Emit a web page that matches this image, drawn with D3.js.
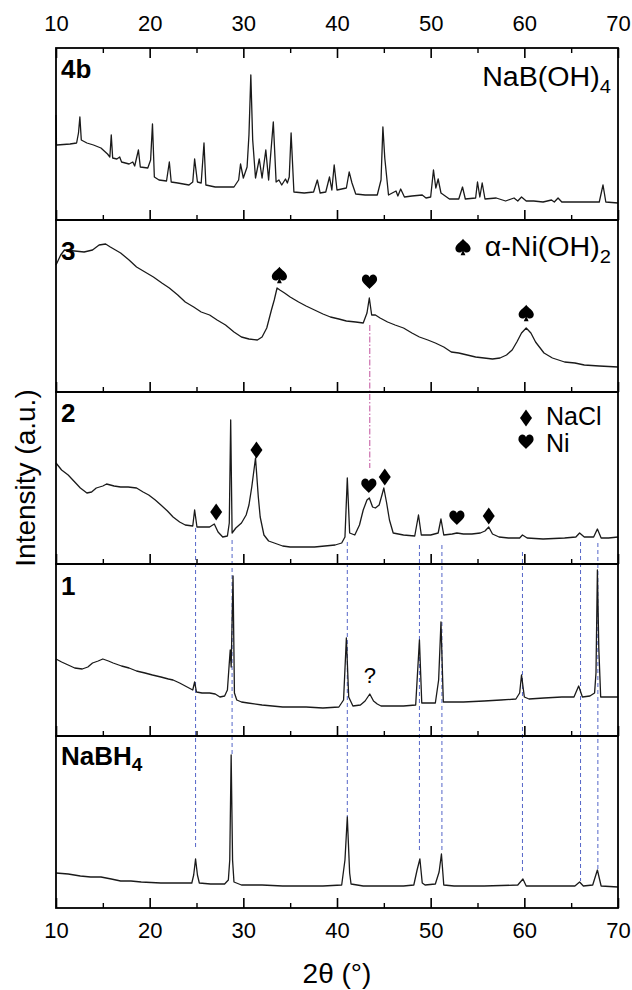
<!DOCTYPE html>
<html><head><meta charset="utf-8">
<script src="https://cdn.jsdelivr.net/npm/d3@7"></script>
<style>
body{margin:0;background:#fff}
svg{display:block}
text{font-family:"Liberation Sans",Arial,Helvetica,sans-serif;fill:#000}
</style>
</head><body>
<svg id="chart" width="632" height="990"></svg>
<script>
// ---------- data ----------
const xDomain = [10, 70];
const xMajorTicks = [10, 20, 30, 40, 50, 60, 70];
const xMinorTicks = [15, 25, 35, 45, 55, 65];
const panelLabels = [["4b", ""], ["3", ""], ["2", ""], ["1", ""], ["NaBH", "4"]];

// intensity (a.u.) vs 2theta
const pattern4b = [[10,105],[10.05,75],[10.1,75],[11.5,76],[12.2,77],[12.4,87],[12.55,103],[12.7,80],[13.3,77],[14,75],[14.8,72],[15.5,66],[15.75,63],[15.9,85],[16.05,62],[16.5,61],[16.8,63],[17,58],[17.8,56],[18.2,58],[18.4,54],[18.8,70],[19,53],[19.8,52],[20.1,60],[20.3,96],[20.5,43],[21,40],[21.8,39],[22.1,58],[22.3,38],[23,37],[24.2,35],[24.6,38],[24.8,61],[25.1,38],[25.5,37],[25.8,77],[26,35],[27,33],[28,33],[29,33],[29.5,40],[29.7,56],[30,42],[30.4,53],[30.6,85],[30.8,145],[31,80],[31.3,42],[31.7,61],[32,42],[32.4,70],[32.7,40],[33.2,98],[33.5,38],[33.8,40],[34.1,35],[34.5,41],[34.7,37],[34.9,43],[35.1,87],[35.4,28],[36.5,27],[37.5,28],[37.9,40],[38.2,27],[38.8,28],[39.2,43],[39.45,30],[39.7,55],[40,30],[41,32],[41.3,48],[41.6,37],[42,26],[43,25],[44.3,25],[44.7,40],[44.9,93],[45.1,62],[45.5,25],[46.3,29],[46.5,24],[46.8,31],[47.2,23],[48,24],[49.1,25],[49.5,22],[50,23],[50.3,50],[50.55,32],[50.8,41],[51.1,27],[52,21],[53,21],[53.4,33],[53.7,21],[54.8,22],[55,38],[55.25,23],[55.5,37],[55.8,21],[57,22],[58,19],[58.9,22],[59.3,19],[59.7,23],[60.2,19],[61,19],[62,18],[62.9,20],[63.2,18],[63.6,22],[64,18],[66,18],[68,18],[68.4,35],[68.7,18],[70,17]];

const pattern3 = [[10,127],[10.5,137],[10.9,142],[12,141],[13,140],[13.9,142],[14.6,147],[15.3,148],[15.8,145],[16.9,139],[17.8,132],[18.6,125],[19.5,120],[20.4,115],[21.3,109],[22.1,104],[23,97],[23.8,90],[24.7,85],[25.5,80],[26.4,77],[27.2,72],[28.1,67],[29,60],[29.8,55],[30.6,53],[31.5,52],[32,55],[32.5,64],[33,82],[33.3,92],[33.6,104],[33.9,102],[34.4,99],[35,95],[35.9,90],[36.7,86],[37.6,82],[38.5,78],[39.3,75],[40.2,73],[41,71],[42,70],[42.8,69],[43.2,79],[43.45,94],[43.7,77],[44.1,77],[44.6,74],[45.4,70],[46.2,67],[47.1,64],[48,59],[48.8,55],[49.7,52],[50.5,49],[51.4,45],[52.2,40],[53,39],[53.9,37],[54.8,35],[55.7,34],[56.6,33],[57.4,34],[58.1,37],[58.7,42],[59.2,50],[59.7,59],[60.2,64],[60.7,59],[61.2,50],[62.1,39],[63,34],[64.3,30],[65.4,29],[66.4,27],[68,26],[70,25]];

const pattern2 = [[10,101],[10.6,94],[11.3,89],[12,82],[12.6,76],[13.3,71],[13.8,72],[14.3,76],[15,78],[15.4,80],[16.2,78],[16.9,77],[17.7,77],[18.6,76],[19.3,72],[19.9,69],[20.6,64],[21.2,59],[21.9,53],[22.5,47],[23.2,42],[23.8,39],[24.6,38],[24.8,54],[25.05,37],[25.7,37],[26.4,37],[26.9,40],[27.3,32],[27.8,27],[28.3,28],[28.5,41],[28.65,144],[28.8,31],[29.2,36],[29.8,41],[30.3,49],[30.6,59],[30.9,77],[31.3,106],[31.6,67],[31.8,47],[32.2,29],[32.7,23],[33.3,21],[34.2,18],[35,17],[36,17],[37.6,17],[38.7,18],[39.8,19],[40.5,21],[40.85,27],[41.1,86],[41.35,31],[41.9,29],[42.4,39],[42.8,54],[43.2,64],[43.45,66],[43.8,57],[44.1,56],[44.5,59],[44.8,69],[45,76],[45.3,61],[45.6,44],[46,31],[47.1,29],[48.3,28],[48.7,49],[49,29],[50,29],[50.8,31],[51.1,45],[51.4,29],[52.3,30],[52.8,31],[53.5,30],[54.4,30],[55.3,31],[55.8,33],[56.2,37],[56.6,30],[57.3,27],[58.3,26],[59.5,26],[59.8,29],[60.3,26],[62,25],[64.3,26],[65.5,27],[65.9,31],[66.4,27],[67.4,27],[67.8,35],[68.2,26],[69,26],[70,27]];

const pattern1 = [[10,77],[10.6,74],[11.3,71],[12,68],[12.8,67],[13.4,69],[13.9,73],[14.5,75],[15,77],[15.6,75],[16.1,73],[17,70],[17.8,68],[18.6,65],[19.5,63],[20.3,61],[21.2,59],[22,57],[22.5,56],[23.2,53],[23.8,50],[24.6,46],[24.8,54],[25,44],[25.6,43],[26.4,43],[27,42],[27.5,39],[28,40],[28.3,46],[28.5,73],[28.6,86],[28.7,69],[28.9,160],[29.05,43],[29.3,36],[29.8,34],[30.5,33],[32,31],[34.2,29],[36.7,29],[38.5,28],[40.2,29],[40.7,36],[41,98],[41.25,39],[41.7,30],[42.5,31],[43,35],[43.5,42],[43.9,35],[44.3,32],[44.7,30],[46,30],[47.1,30],[48.4,31],[48.8,96],[49.05,33],[50,33],[50.5,33],[50.85,56],[51.1,114],[51.35,34],[52,34],[53.5,34],[55.7,35],[57.5,36],[59.1,37],[59.5,43],[59.7,61],[60,39],[60.5,37],[62.1,38],[64,39],[65.3,39],[65.8,50],[66.2,39],[67,40],[67.5,43],[67.65,63],[67.8,166],[67.95,88],[68.15,39],[68.5,39],[70,39]];

const patternNaBH4 = [[10,35],[11.3,34],[12.6,32],[13.7,31],[14.8,31],[15.9,29],[16.9,27],[18,27],[19.1,26],[21.2,25],[23.2,25],[24.5,25],[24.7,33],[24.9,49],[25.1,33],[25.3,25],[26.5,24],[28,24],[28.4,28],[28.55,48],[28.7,153],[28.85,48],[29,26],[29.8,23],[32,23],[34.2,22],[38.5,22],[40.5,23],[40.85,48],[41.1,91],[41.35,35],[41.5,24],[42.8,22],[47.1,22],[48.2,23],[48.55,38],[48.85,49],[49.1,25],[49.4,23],[50.5,24],[50.9,36],[51.15,54],[51.4,23],[52.5,22],[55.7,22],[59.3,23],[59.85,29],[60.2,22],[63,22],[65.4,22],[65.9,26],[66.3,22],[67.3,23],[67.8,38],[68.2,22],[70,21]];

const patterns = [pattern4b, pattern3, pattern2, pattern1, patternNaBH4];

// NaBH4 reference lines: 2theta, start intensity in panel 2, end intensity in NaBH4 panel
const refX    = [24.9, 28.8, 41.1, 48.8, 51.2, 59.8, 66.0, 67.85];
const refFrom = [36, 24, 22, 19, 19, 12, 22, 21];
const refTo   = [61, 153, 91, 58, 56, 35, 27, 38];
// Ni reference line (panel 3 -> panel 2)
const niX = 43.5, niFrom = 67, niTo = 96;

// phase markers: panel index, 2theta, intensity, phase
const markers = [
  [1, 33.85, 117, "spade"], [1, 43.47, 110, "heart"], [1, 60.2, 79, "spade"],
  [2, 27.1, 52, "diamond"], [2, 31.4, 114, "diamond"], [2, 43.4, 78, "heart"],
  [2, 45.1, 87, "diamond"], [2, 52.8, 46, "heart"], [2, 56.2, 48, "diamond"]
];
const questionMark = [3, 43.5, 61];

// ---------- layout ----------
const plotL = 56, plotR = 618, plotT = 48, panelH = 172, nP = 5;
const plotB = plotT + panelH * nP;
const svg = d3.select("#chart");

// symbol outlines (centred at 0,0)
const symbolPaths = {
  diamond: "M0,-8.5L6,0L0,8.5L-6,0Z",
  heart: "M0,7C-2,4.2 -7.6,1.2 -7.6,-2.8C-7.6,-5.8 -5.4,-7.4 -3.6,-7.4C-1.9,-7.4 -0.6,-6.4 0,-4.8C0.6,-6.4 1.9,-7.4 3.6,-7.4C5.4,-7.4 7.6,-5.8 7.6,-2.8C7.6,1.2 2,4.2 0,7Z",
  spade: "M0,-8.2C-2,-5.2 -7.6,-2.2 -7.6,1.6C-7.6,4.4 -5.6,5.6 -3.8,5.6C-2.2,5.6 -1.1,4.8 -0.5,3.8L-2.4,8.2L2.4,8.2L0.5,3.8C1.1,4.8 2.2,5.6 3.8,5.6C5.6,5.6 7.6,4.4 7.6,1.6C7.6,-2.2 2,-5.2 0,-8.2Z"
};
function drawSymbol(cx, cy, kind) {
  svg.append("path").attr("d", symbolPaths[kind])
    .attr("transform", `translate(${cx},${cy})`)
    .attr("fill", "#000");
}

const x = d3.scaleLinear().domain(xDomain).range([plotL, plotR]);
const yScales = d3.range(nP).map(i =>
  d3.scaleLinear().domain([0, panelH]).range([plotT + (i + 1) * panelH, plotT + i * panelH]));

// reference lines
const refG = svg.append("g");
refX.forEach((v, k) => {
  refG.append("line")
    .attr("x1", x(v)).attr("x2", x(v))
    .attr("y1", yScales[2](refFrom[k])).attr("y2", yScales[4](refTo[k]))
    .attr("stroke", "#5566c8").attr("stroke-width", 1)
    .attr("stroke-dasharray", "4,3");
});
refG.append("line")
  .attr("x1", x(niX)).attr("x2", x(niX))
  .attr("y1", yScales[1](niFrom)).attr("y2", yScales[2](niTo))
  .attr("stroke", "#c0509c").attr("stroke-width", 1)
  .attr("stroke-dasharray", "6,2,1.5,2");

// traces
const line = d3.line().x(d => x(d[0]));
patterns.forEach((p, i) => {
  svg.append("path")
    .datum(p)
    .attr("d", line.y(d => yScales[i](d[1])))
    .attr("fill", "none")
    .attr("stroke", "#1a1a1a")
    .attr("stroke-width", 1.3)
    .attr("stroke-linejoin", "round");
});

// axes per panel
for (let i = 0; i < nP; i++) {
  const yb = plotT + (i + 1) * panelH;
  const isLast = i === nP - 1;
  const ax = svg.append("g").attr("transform", `translate(0,${yb})`)
    .call(d3.axisBottom(x).tickValues(xMajorTicks).tickSize(-10).tickPadding(14)
      .tickFormat(isLast ? d3.format("d") : () => ""));
  ax.select(".domain").remove();
  ax.selectAll("line").attr("stroke", "#000").attr("stroke-width", 1.6);
  ax.selectAll("text").style("font-size", "22px").attr("fill", "#000");
  const mx = svg.append("g").attr("transform", `translate(0,${yb})`)
    .call(d3.axisBottom(x).tickValues(xMinorTicks).tickSize(-5).tickFormat(() => ""));
  mx.select(".domain").remove();
  mx.selectAll("line").attr("stroke", "#000").attr("stroke-width", 1.4);
}
// top axis
const tax = svg.append("g").attr("transform", `translate(0,${plotT})`)
  .call(d3.axisTop(x).tickValues(xMajorTicks).tickSize(-10).tickPadding(17).tickFormat(d3.format("d")));
tax.select(".domain").remove();
tax.selectAll("line").attr("stroke", "#000").attr("stroke-width", 1.6);
tax.selectAll("text").style("font-size", "22px").attr("fill", "#000");
const tmx = svg.append("g").attr("transform", `translate(0,${plotT})`)
  .call(d3.axisTop(x).tickValues(xMinorTicks).tickSize(-5).tickFormat(() => ""));
tmx.select(".domain").remove();
tmx.selectAll("line").attr("stroke", "#000").attr("stroke-width", 1.4);

// frames
for (let i = 0; i < nP; i++) {
  svg.append("rect")
    .attr("x", plotL).attr("y", plotT + i * panelH)
    .attr("width", plotR - plotL).attr("height", panelH)
    .attr("fill", "none").attr("stroke", "#000").attr("stroke-width", 1.8);
}

// panel labels
const labelBaselines = [78, 260, 422, 595, 765];
panelLabels.forEach((lab, i) => {
  const t = svg.append("text").attr("x", plotL + 5).attr("y", labelBaselines[i])
    .style("font-size", "26px").style("font-weight", "bold");
  t.append("tspan").text(lab[0]);
  if (lab[1]) t.append("tspan").attr("dy", 6).style("font-size", "19px").text(lab[1]);
});

// phase legends
function chem(xr, yb, main, sub) {
  const t = svg.append("text")
    .attr("transform", `translate(${xr},${yb}) scale(1.06,1)`)
    .attr("text-anchor", "end").style("font-size", "27px");
  t.append("tspan").text(main);
  t.append("tspan").attr("dy", 7).style("font-size", "19px").text(sub);
  return t;
}
chem(611, 86, "NaB(OH)", "4");
chem(611, 256, "\u03b1-Ni(OH)", "2");
drawSymbol(463, 247, "spade");
drawSymbol(526, 418, "diamond");
drawSymbol(526, 442, "heart");
svg.append("text").attr("x", 546).attr("y", 425).attr("text-anchor", "start")
  .style("font-size", "25px").text("NaCl");
svg.append("text").attr("x", 546).attr("y", 452).attr("text-anchor", "start")
  .style("font-size", "25px").text("Ni");

// markers on peaks
markers.forEach(m => drawSymbol(x(m[1]), yScales[m[0]](m[2]), m[3]));
svg.append("text")
  .attr("x", x(questionMark[1])).attr("y", yScales[questionMark[0]](questionMark[2]))
  .attr("dy", "0.35em").attr("text-anchor", "middle")
  .style("font-size", "22px").text("?");

// axis titles
svg.append("text").attr("x", (plotL + plotR) / 2).attr("y", 983)
  .attr("text-anchor", "middle").style("font-size", "28px").text("2\u03b8 (\u00b0)");
svg.append("text").attr("transform", `translate(35,${(plotT + plotB) / 2}) rotate(-90)`)
  .attr("text-anchor", "middle").style("font-size", "28px").text("Intensity (a.u.)");
</script>
</body></html>
